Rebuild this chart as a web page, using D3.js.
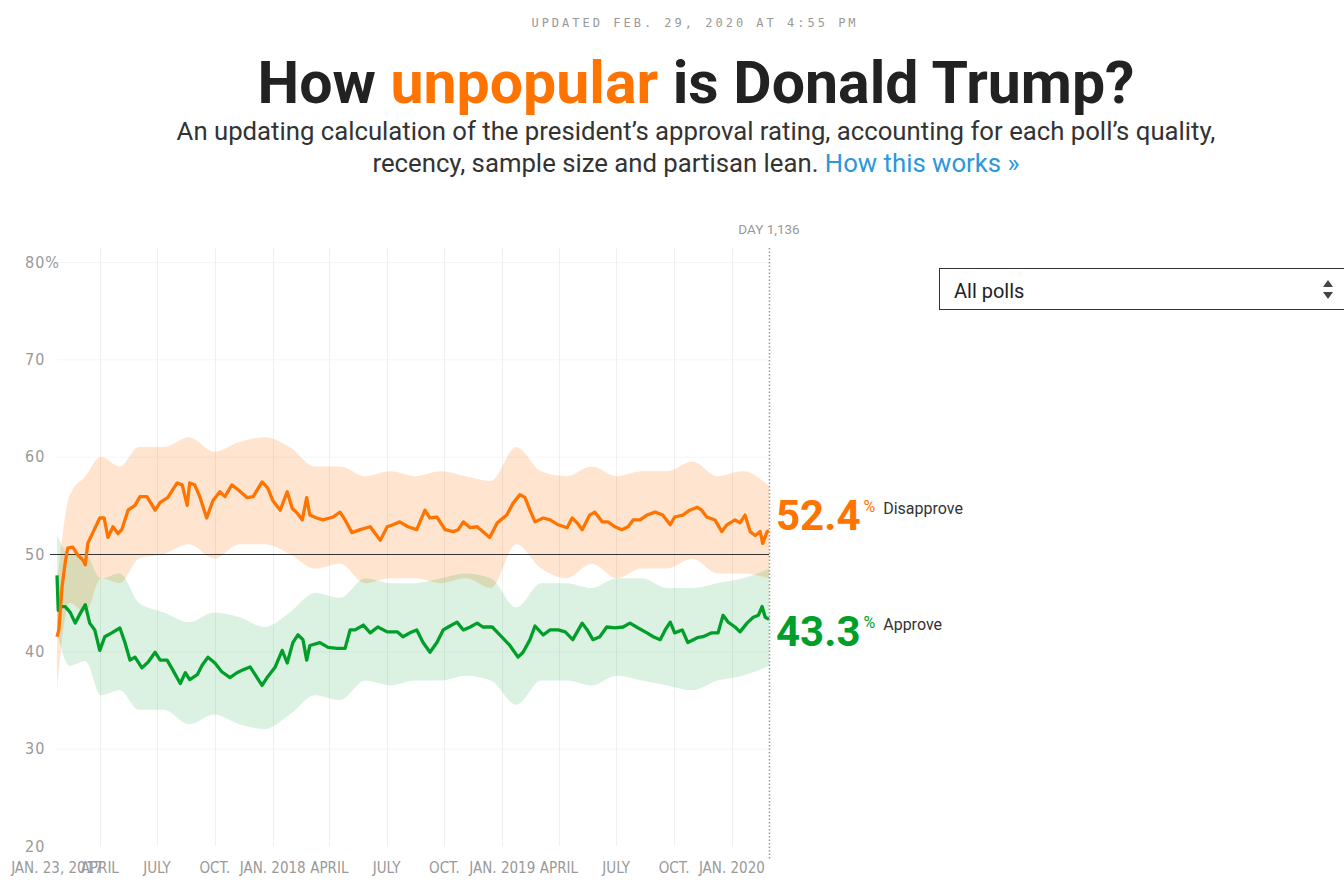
<!DOCTYPE html>
<html lang="en">
<head>
<meta charset="UTF-8">
<title>How unpopular is Donald Trump?</title>
<script src="https://cdn.jsdelivr.net/npm/d3@7"></script>
<style>
  body { margin: 0; background: #fff; }
  svg { display: block; }
</style>
</head>
<body>
<svg id="chart" width="1344" height="885"></svg>
<script>
// days are counted from Jan. 23, 2017
const disDays = [0,3,8,13,17,25,33,41,45,49,57,68,75,81,89,97,103,113,124,132,143,156,164,176,191,199,207,211,219,227,238,248,259,267,278,288,302,312,326,335,343,355,366,374,382,390,397,402,413,423,439,450,458,469,482,498,506,514,525,534,545,558,572,585,593,604,617,630,638,646,657,668,677,688,700,715,725,736,744,752,760,773,784,797,811,819,827,835,847,855,867,876,887,898,908,916,927,938,951,963,975,982,995,1006,1018,1025,1033,1046,1057,1065,1078,1086,1094,1102,1110,1118,1122,1129,1132];
const disVals = [41.5,42.2,46.6,49.1,50.6,50.7,49.9,49.4,48.9,51.1,52.2,53.7,53.7,51.7,52.8,52.1,52.5,54.5,55.0,55.9,55.9,54.5,55.3,55.8,57.3,57.1,55.0,57.3,57.1,55.9,53.7,55.5,56.4,55.9,57.1,56.6,55.8,55.9,57.4,56.8,55.5,54.5,56.4,54.7,54.2,53.5,55.8,54.0,53.7,53.5,53.8,54.3,53.5,52.2,52.5,52.8,52.1,51.4,52.8,53.0,53.3,52.8,52.5,54.5,53.7,53.8,52.5,52.3,52.5,53.3,52.7,52.8,52.3,51.7,53.2,54.0,55.2,56.1,55.8,54.5,53.3,53.7,53.5,53.0,52.7,53.7,53.2,52.5,54.0,54.3,53.3,53.3,52.8,52.5,52.8,53.5,53.5,54.0,54.3,54.0,53.0,53.8,54.0,54.5,54.8,54.5,53.8,53.5,52.3,53.0,53.5,53.2,54.0,52.3,51.9,52.3,51.1,52.3,52.4];

const appDays = [0,2,5,13,21,29,37,45,52,60,68,76,87,100,108,116,124,135,145,156,164,175,184,196,204,211,223,231,240,251,262,275,286,296,307,315,326,335,347,358,366,375,383,391,397,402,418,431,445,458,466,474,487,498,510,525,541,550,561,572,582,593,604,614,622,636,646,657,668,677,692,704,720,733,741,752,760,773,784,797,808,820,835,843,852,863,874,887,900,911,924,938,948,959,967,975,982,994,1003,1018,1027,1041,1051,1059,1067,1078,1086,1097,1107,1115,1121,1126,1132];
const appVals = [47.8,44.2,44.6,44.6,44.0,42.9,43.9,44.8,42.9,42.2,40.1,41.5,41.9,42.4,40.9,39.1,39.4,38.3,38.9,39.9,39.1,39.1,38.1,36.7,37.8,37.1,37.6,38.6,39.4,38.8,37.9,37.3,37.8,38.1,38.4,37.6,36.5,37.4,38.4,40.1,38.8,40.9,41.7,41.2,39.1,40.6,40.9,40.4,40.3,40.3,42.2,42.2,42.7,41.9,42.5,42.0,42.0,41.5,41.9,42.2,40.9,39.9,40.9,42.2,42.5,43.0,42.2,42.5,42.9,42.5,42.5,41.7,40.6,39.4,39.9,41.2,42.6,41.7,42.2,42.2,42.0,41.2,42.9,42.2,41.2,41.5,42.5,42.4,42.5,42.9,42.4,41.9,41.5,41.2,42.2,43.0,41.9,42.2,40.9,41.4,41.5,41.9,41.9,43.7,43.0,42.5,42.0,42.9,43.5,43.7,44.6,43.5,43.3];

// uncertainty bands
const bandDays = [0,20,45,70,100,130,170,210,250,290,330,370,410,450,490,530,570,610,650,690,730,770,810,850,890,930,970,1010,1050,1090,1132];
const disHi = [47,56,58,60,59,61,61,62,60.5,61.5,62,61,59,59,58,58.5,58,58.5,58,57.5,61,58.5,58,59,58,58.5,58.5,59.5,58,58.5,57];
const disLo = [36,45,44,47.5,47,49.5,50,51,49.5,51,51,50,48.5,49,47,47.5,47.5,47,47.5,46.5,51,48.5,47.5,49,47.5,48.5,48.5,49.5,48,48,47.5];
const appHi = [52,50,50,47.5,48,45,44,43,44,43.5,42.5,44,46,45.5,47.5,47,47,47.5,48,47.5,44.5,47,47,46.5,47.5,47.5,46.5,46.5,47,47.5,48.5];
const appLo = [42,38.5,39,35.5,36,34,34,32.5,33.5,32.5,32,33.5,35.5,35,37,36.5,37,37,37.5,37,34.5,37,37,36.5,37.5,37,36.5,36,37,37.5,38.5];

const yTicks = [20, 30, 40, 50, 60, 70, 80];
const xTickDates = ["2017-01-23","2017-04-01","2017-07-01","2017-10-01","2018-01-01","2018-04-01","2018-07-01","2018-10-01","2019-01-01","2019-04-01","2019-07-01","2019-10-01","2020-01-01"];
const xTickLabels = ["JAN. 23, 2017","APRIL","JULY","OCT.","JAN. 2018","APRIL","JULY","OCT.","JAN. 2019","APRIL","JULY","OCT.","JAN. 2020"];

const ORANGE = "#ff7400", GREEN = "#009f29";
const chartFont = "'Liberation Sans Narrow', 'DejaVu Sans Condensed', sans-serif";

const svg = d3.select("#chart");
const parse = d3.timeParse("%Y-%m-%d");
const start = parse("2017-01-23");
const end = parse("2020-02-29");
const dayToDate = d => d3.timeDay.offset(start, d);

const x = d3.scaleTime().domain([start, end]).range([57, 769]);
const y = d3.scaleLinear().domain([20, 80]).range([846, 262]);

// shrink or grow a text to a given width
function fitWidth(sel, target) {
  const node = sel.node();
  const fs = parseFloat(sel.attr("font-size"));
  const w = node.getComputedTextLength();
  sel.attr("font-size", (fs * target / w).toFixed(2));
}

// ---- header
svg.append("text")
  .attr("x", 695).attr("y", 27)
  .attr("text-anchor", "middle")
  .attr("font-family", "'DejaVu Sans Mono', monospace")
  .attr("font-size", 12).attr("letter-spacing", 3)
  .attr("fill", "#999")
  .text("UPDATED FEB. 29, 2020 AT 4:55 PM");

const title = svg.append("text")
  .attr("x", 696).attr("y", 103)
  .attr("text-anchor", "middle")
  .attr("font-family", "Roboto, sans-serif")
  .attr("font-weight", 700).attr("font-size", 56)
  .attr("fill", "#222");
title.append("tspan").text("How ");
title.append("tspan").attr("fill", ORANGE).text("unpopular");
title.append("tspan").text(" is Donald Trump?");
fitWidth(title, 877);

const sub1 = svg.append("text")
  .attr("x", 696).attr("y", 140)
  .attr("text-anchor", "middle")
  .attr("font-family", "Roboto, sans-serif")
  .attr("font-size", 21).attr("fill", "#333")
  .text("An updating calculation of the president\u2019s approval rating, accounting for each poll\u2019s quality,");
fitWidth(sub1, 1039);

const sub2 = svg.append("text")
  .attr("x", 696).attr("y", 172)
  .attr("text-anchor", "middle")
  .attr("font-family", "Roboto, sans-serif")
  .attr("font-size", sub1.attr("font-size")).attr("fill", "#333");
sub2.append("tspan").text("recency, sample size and partisan lean. ");
sub2.append("tspan").attr("fill", "#2b98d9").text("How this works \u00bb");

// ---- dropdown
svg.append("rect")
  .attr("x", 939.5).attr("y", 268.5)
  .attr("width", 420).attr("height", 41)
  .attr("fill", "#fff").attr("stroke", "#333");
svg.append("text")
  .attr("x", 954).attr("y", 298)
  .attr("font-family", "Roboto, sans-serif")
  .attr("font-size", 20).attr("fill", "#222")
  .text("All polls");
svg.append("path").attr("d", "M1323,287 L1328,280 L1333,287 Z").attr("fill", "#444");
svg.append("path").attr("d", "M1323,292 L1328,299 L1333,292 Z").attr("fill", "#444");

// ---- grid
const g = svg.append("g");
g.selectAll(".hgrid").data(yTicks.filter(t => t !== 50 && t !== 20))
  .enter().append("line")
  .attr("x1", 57).attr("x2", 769)
  .attr("y1", d => y(d) + 0.5).attr("y2", d => y(d) + 0.5)
  .attr("stroke", "#f5f5f5");

g.selectAll(".vgrid").data(xTickDates.slice(1))
  .enter().append("line")
  .attr("x1", d => Math.round(x(parse(d))) + 0.5).attr("x2", d => Math.round(x(parse(d))) + 0.5)
  .attr("y1", 248).attr("y2", 846)
  .attr("stroke", "#efefef");

// y labels
g.selectAll(".ylab").data(yTicks)
  .enter().append("text")
  .attr("x", 25).attr("y", d => y(d))
  .attr("dy", "0.36em")
  .attr("font-family", chartFont)
  .attr("font-size", 16).attr("letter-spacing", 1)
  .attr("fill", "#999")
  .text(d => d === 80 ? d + "%" : d);

// x labels
g.selectAll(".xlab").data(xTickDates)
  .enter().append("text")
  .attr("x", d => x(parse(d))).attr("y", 873)
  .attr("text-anchor", "middle")
  .attr("font-family", chartFont)
  .attr("font-size", 15)
  .attr("fill", "#999")
  .text((d, i) => xTickLabels[i]);

// ---- bands
const bandIdx = d3.range(bandDays.length);
const area = (hi, lo) => d3.area()
  .x(i => x(dayToDate(bandDays[i])))
  .y0(i => y(lo[i]))
  .y1(i => y(hi[i]))
  .curve(d3.curveMonotoneX);

g.append("path").datum(bandIdx)
  .attr("d", area(disHi, disLo))
  .attr("fill", ORANGE).attr("fill-opacity", 0.19);
g.append("path").datum(bandIdx)
  .attr("d", area(appHi, appLo))
  .attr("fill", GREEN).attr("fill-opacity", 0.14);

// 50% line
g.append("line")
  .attr("x1", 50).attr("x2", 769)
  .attr("y1", y(50) + 0.5).attr("y2", y(50) + 0.5)
  .attr("stroke", "#333").attr("stroke-width", 1);

// ---- lines
const line = (days, vals) => d3.line()
  .x(i => x(dayToDate(days[i])))
  .y(i => y(vals[i]));

g.append("path").datum(d3.range(appDays.length))
  .attr("d", line(appDays, appVals))
  .attr("fill", "none").attr("stroke", GREEN)
  .attr("stroke-width", 3.3).attr("stroke-linejoin", "round");
g.append("path").datum(d3.range(disDays.length))
  .attr("d", line(disDays, disVals))
  .attr("fill", "none").attr("stroke", ORANGE)
  .attr("stroke-width", 3.3).attr("stroke-linejoin", "round");

// ---- current day marker
g.append("line")
  .attr("x1", Math.round(x(end)) + 0.5).attr("x2", Math.round(x(end)) + 0.5)
  .attr("y1", 248).attr("y2", 860)
  .attr("stroke", "#999").attr("stroke-width", 1.5)
  .attr("stroke-dasharray", "1.5,2");
g.append("text")
  .attr("x", x(end)).attr("y", 234)
  .attr("text-anchor", "middle")
  .attr("font-family", "Roboto, sans-serif")
  .attr("font-size", 13.5).attr("fill", "#999")
  .text("DAY 1,136");

// ---- end labels
const lastDis = disVals[disVals.length - 1];
const lastApp = appVals[appVals.length - 1];

function endLabel(val, color, name, baseline) {
  const t = g.append("text")
    .attr("x", 776).attr("y", baseline)
    .attr("font-family", "Roboto, sans-serif");
  t.append("tspan").attr("font-size", 42).attr("font-weight", 700)
    .attr("fill", color).text(val.toFixed(1));
  t.append("tspan").attr("font-size", 16).attr("fill", color)
    .attr("dx", 3).attr("dy", -18).text("%");
  t.append("tspan").attr("font-size", 16).attr("fill", "#333")
    .attr("dx", 8).attr("dy", 2).text(name);
}
endLabel(lastDis, ORANGE, "Disapprove", y(lastDis) - 1);
endLabel(lastApp, GREEN, "Approve", y(lastApp) + 27);
</script>
</body>
</html>
